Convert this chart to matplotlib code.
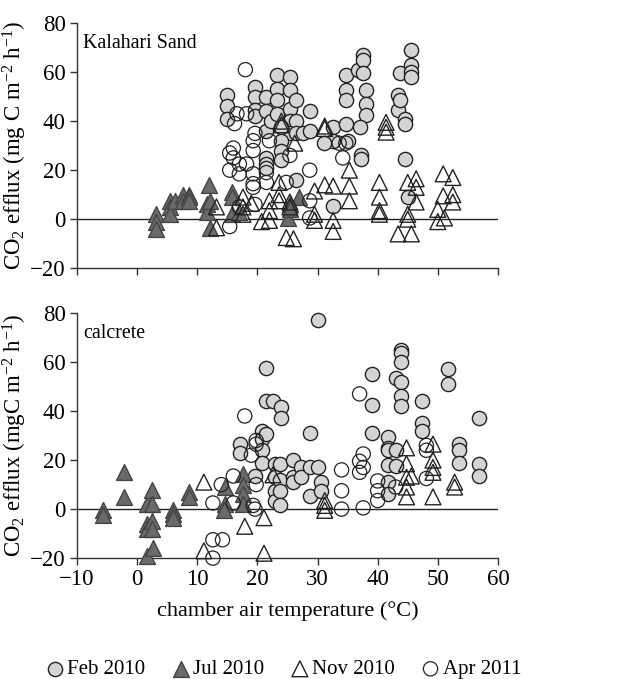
import matplotlib
matplotlib.use("Agg")
import matplotlib.pyplot as plt

plt.rcParams['font.family'] = ['Liberation Serif', 'DejaVu Serif']
plt.rcParams['mathtext.fontset'] = 'custom'
plt.rcParams['mathtext.rm'] = 'Liberation Serif'
plt.rcParams['mathtext.it'] = 'Liberation Serif:italic'

# ---- Kalahari Sand (top panel) ----
sand_feb_t = [14.9, 14.9, 14.9, 19.6, 19.6, 19.6, 19.6, 21.5, 21.5, 21.5, 21.5, 21.5, 21.5,
              22.3, 23.2, 23.2, 23.2, 23.2, 25.4, 25.4, 25.4, 25.4, 25.4, 24.0, 24.0, 24.0, 24.0,
              26.5, 26.5, 26.5, 27.6, 28.7, 28.7, 26.5, 32.6, 32.6, 31.0, 34.8, 34.8, 34.8, 34.8,
              35.0, 36.7, 37.6, 37.6, 37.6, 38.1, 38.1, 38.1, 37.0, 37.3, 37.3, 32.6,
              43.4, 43.4, 43.7, 43.7, 44.5, 44.5, 44.5, 45.0, 45.6, 45.6, 45.6, 45.6]
sand_feb_v = [50.5, 46, 41, 54, 50, 44.5, 42, 50, 44, 36, 25, 22.5, 21,
              40, 59, 53, 48.5, 43, 58, 52.5, 45, 40, 35, 37.5, 32, 28, 24,
              48.5, 40, 35, 35, 44, 36, 16, 37.5, 32, 31, 59, 52.5, 48.5, 39,
              32, 61, 67, 65, 59.5, 52.5, 47, 42.5, 37.5, 26, 24.5, 5.5,
              50.5, 44.5, 59.5, 48.5, 41, 39, 24.5, 9, 69, 63, 60, 58]

sand_jul_t = [3.1, 3.1, 3.1, 5.4, 5.4, 5.4, 6.3, 7.6, 7.6, 8.7, 8.7, 8.7,
              12.0, 11.7, 11.7, 12.1, 12.1, 15.7, 15.7, 15.7, 17.0, 25.1, 27.0, 25.4, 25.4]
sand_jul_v = [2, -1, -4, 7.5, 5, 2, 7.5, 10, 7.5, 10, 9, 7.5,
              14, 6, 3, 7.5, -3.5, 11, 9, 2, 3, 0.5, 9, 6, 4]

sand_nov_t = [13.2, 13.2, 17.6, 17.6, 17.6, 19.0, 20.7, 22.0, 22.0, 22.0, 23.6, 23.6, 23.6,
              24.0, 24.0, 24.8, 26.0, 26.2, 25.4, 25.4, 29.5, 29.5, 29.5, 31.2, 31.2, 31.2,
              32.6, 32.6, 32.6, 35.3, 35.3, 35.3, 40.3, 40.3, 40.3, 40.3, 41.4, 41.4, 41.4,
              43.4, 45.0, 45.0, 45.0, 45.6, 46.4, 46.4, 46.4, 50.0, 50.0, 50.9, 50.9, 51.1,
              52.5, 52.5, 52.5]
sand_nov_v = [5, -3.5, 9, 5, 2, 6.5, -1, 7.5, 3.5, -0.5, 15, 10, 7.5,
              40, 38.5, -7.5, -8, 31, 7, 5, 11.5, 2, -0.5, 38, 37, 14,
              13.5, -0.5, -5, 20, 13.5, 7.5, 15, 9, 3.5, 2, 39.5, 37.5, 35.5,
              -6, 15, 2, 0, -6, 16.5, 13, 7, 4, -1, 18.5, 9.5, 0.5,
              17, 10, 7]

sand_apr_t = [18.0, 16.2, 16.6, 18.2, 15.4, 15.4, 15.4, 16.0, 16.0, 17.0, 17.0, 18.2,
              19.3, 19.3, 19.3, 19.3, 19.3, 19.6, 17.0, 19.6, 21.5, 21.5, 22.0, 25.4, 24.8,
              28.7, 28.7, 28.7, 34.2, 34.7, 33.6]
sand_apr_v = [61, 39, 43, 43, 27, 20, -3, 29, 25, 22.5, 18.5, 22.5,
              32, 28, 18.5, 14.5, 13, 35, 5, 6, 19, 15, 32, 26, 15,
              20, 7.5, 0.5, 25, 31, 31]

# ---- calcrete (bottom panel) ----
calc_feb_t = [30.1, 21.5, 21.5, 22.6, 23.9, 23.9, 17.1, 17.1, 20.7, 20.7, 20.7, 20.7, 21.5,
              22.9, 22.9, 22.9, 22.9, 23.7, 23.7, 23.7, 23.7, 19.6, 25.9, 25.9, 25.9,
              27.3, 27.3, 28.7, 28.7, 28.7, 30.1, 30.6, 30.6, 39.1, 39.1, 39.1,
              41.7, 41.7, 41.7, 41.7, 41.7, 41.7, 43.0, 43.0, 43.0, 43.9, 43.9, 43.9, 43.9, 43.9,
              43.9, 47.3, 47.3, 47.3, 51.7, 51.7, 53.6, 53.6, 53.6, 56.9, 56.9, 56.9]
calc_feb_v = [77, 57.5, 44, 44, 41.5, 37, 26.5, 23, 32, 28.5, 24, 19, 30.5,
              18.5, 13, 7.5, 3.5, 18.5, 12, 7.5, 1.5, 13.5, 20, 13, 11,
              17, 13, 31, 17, 5.5, 17, 11, 7.5, 55, 42.5, 31,
              29.5, 25, 24, 18, 11, 6, 53.5, 17.5, 24, 65, 63.5, 60, 52, 46,
              42, 44, 35, 32, 57, 51, 26.5, 24, 19, 37, 18.5, 13.5]

calc_jul_t = [-5.6, -5.6, -2.2, -2.2, 1.6, 1.6, 1.6, 1.6, 2.4, 2.4, 2.4, 2.4, 2.6,
              5.9, 5.9, 5.9, 8.7, 8.7, 14.6, 14.6, 14.4, 17.6, 17.6, 17.6, 17.6]
calc_jul_v = [-0.5, -2.5, 15, 5, 2, -6, -8, -19, 8, 2, -5, -8, -16,
              -0.5, -2, -3.5, 7, 5, 9, 2, -0.5, 14.5, 10, 6, 2]

calc_nov_t = [11.1, 11.1, 17.9, 21.1, 21.1, 22.6, 31.2, 31.2, 31.2,
              44.8, 44.8, 44.8, 44.8, 44.8, 45.6, 49.2, 49.2, 49.2, 49.2, 49.2, 52.8, 52.8]
calc_nov_v = [11, -17, -7, -3.5, -18, 14, 3.5, 1.5, -0.5,
              25, 18.5, 13, 9, 5, 13.5, 26.5, 20, 17, 15, 5, 11, 9]

calc_apr_t = [12.6, 12.6, 12.6, 14.2, 14.0, 16.0, 16.0, 17.9, 19.0, 19.8, 19.8, 19.3, 19.6,
              19.8, 34.0, 34.0, 34.0, 37.0, 37.0, 37.0, 37.6, 37.6, 37.6, 40.0, 40.0, 40.0,
              43.0, 48.1, 48.1, 48.1]
calc_apr_v = [2.5, -20, -12.5, -12.5, 10, 13.5, 2.5, 38, 22, 28, 26.5, 1.5, 0,
              10, 16, 7.5, 0, 47, 19.5, 15, 22.5, 0.5, 17, 11.5, 7.5, 3.5,
              9, 26, 24, 12.5]

xticks = [-10, 0, 10, 20, 30, 40, 50, 60]
yticks = [-20, 0, 20, 40, 60, 80]

fig = plt.figure(figsize=(6.33, 6.79), dpi=100)
ax1 = fig.add_axes([0.1216, 0.605, 0.665, 0.361])
ax2 = fig.add_axes([0.1216, 0.178, 0.665, 0.361])

edge = '#222222'
styles = dict(
    feb=dict(marker='o', s=105, facecolors='#d4d4d4', edgecolors=edge, linewidths=1.0),
    jul=dict(marker='^', s=130, facecolors='#6a6a6a', edgecolors='#444444', linewidths=1.0),
    nov=dict(marker='^', s=130, facecolors='none', edgecolors=edge, linewidths=1.0),
    apr=dict(marker='o', s=105, facecolors='none', edgecolors=edge, linewidths=0.9),
)

panels = [
    (ax1, 'Kalahari Sand', r'CO$_2$ efflux (mg C m$^{-2}$ h$^{-1}$)',
     [(sand_feb_t, sand_feb_v, 'feb'), (sand_jul_t, sand_jul_v, 'jul'),
      (sand_nov_t, sand_nov_v, 'nov'), (sand_apr_t, sand_apr_v, 'apr')]),
    (ax2, 'calcrete', r'CO$_2$ efflux (mgC m$^{-2}$ h$^{-1}$)',
     [(calc_feb_t, calc_feb_v, 'feb'), (calc_jul_t, calc_jul_v, 'jul'),
      (calc_nov_t, calc_nov_v, 'nov'), (calc_apr_t, calc_apr_v, 'apr')]),
]

labels = {'feb': 'Feb 2010', 'jul': 'Jul 2010', 'nov': 'Nov 2010', 'apr': 'Apr 2011'}
handles = {}
for ax, name, ylab, series in panels:
    ax.axhline(0, color='#222222', lw=1.0, zorder=1)
    for t, v, key in series:
        h = ax.scatter(t, v, zorder=3, clip_on=False, label=labels[key], **styles[key])
        handles[key] = h
    ax.set_xlim(-10, 60)
    ax.set_ylim(-20, 80)
    ax.set_xticks(xticks)
    ax.set_yticks(yticks)
    for s in ['top', 'right']:
        ax.spines[s].set_visible(False)
    for s in ['left', 'bottom']:
        ax.spines[s].set_color('#333333')
        ax.spines[s].set_linewidth(1.0)
    ax.tick_params(direction='out', length=5, width=1.0, color='#333333',
                   labelsize=16.5, pad=3)
    ax.set_ylabel(ylab, fontsize=16.5, labelpad=1)
    ax.text(0.015, 0.918, name, transform=ax.transAxes, fontsize=14.3,
            ha='left', va='center')

ax1.tick_params(labelbottom=False)
ax2.set_xlabel('chamber air temperature (°C)', fontsize=16, labelpad=8)

order = ['feb', 'jul', 'nov', 'apr']
fig.legend([handles[k] for k in order], [labels[k] for k in order],
           loc='lower center', bbox_to_anchor=(0.447, -0.028), ncol=4,
           frameon=False, fontsize=15, handletextpad=0.1, columnspacing=1.2,
           handlelength=1.0)

fig.savefig('out.png', dpi=100)
